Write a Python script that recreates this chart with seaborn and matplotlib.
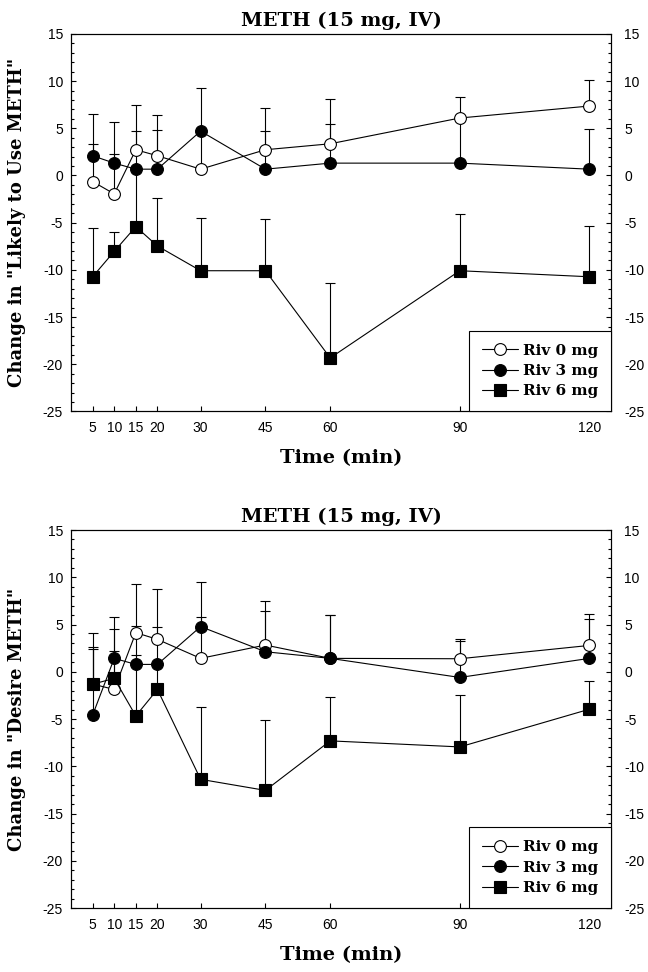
import numpy as np
import pandas as pd
import matplotlib
matplotlib.use("Agg")
import matplotlib.pyplot as plt
from matplotlib.ticker import MultipleLocator, FixedLocator
import seaborn as sns

# ---------------- data ----------------
times = [5, 10, 15, 20, 30, 45, 60, 90, 120]
doses = ["Riv 0 mg", "Riv 3 mg", "Riv 6 mg"]

likely_riv0 = [-0.64, -1.95, 2.73, 2.09, 0.67, 2.73, 3.36, 6.09, 7.36]
likely_riv0_se = [4.0, 4.18, 4.74, 4.35, 4.0, 4.45, 4.7, 2.23, 2.75]
likely_riv3 = [2.09, 1.31, 0.67, 0.67, 4.7, 0.67, 1.31, 1.31, 0.67]
likely_riv3_se = [4.46, 4.4, 4.03, 4.18, 4.6, 4.03, 4.1, 4.5, 4.25]
likely_riv6 = [-10.73, -8.04, -5.42, -7.47, -10.09, -10.09, -19.33, -10.09, -10.73]
likely_riv6_se = [5.17, 2.06, 6.0, 5.1, 5.63, 5.5, 7.9, 6.05, 5.35]

desire_riv0 = [-1.3, -1.87, 4.14, 3.43, 1.42, 2.83, 1.42, 1.38, 2.79]
desire_riv0_se = [5.4, 4.1, 5.2, 5.3, 4.4, 4.7, 4.55, 1.9, 3.33]
desire_riv3 = [-4.59, 1.42, 0.78, 0.78, 4.78, 2.12, 1.42, -0.6, 1.42]
desire_riv3_se = [7.0, 4.4, 4.1, 4.0, 4.7, 4.35, 4.55, 4.07, 4.14]
desire_riv6 = [-1.31, -0.7, -4.67, -1.87, -11.38, -12.55, -7.31, -7.95, -3.96]
desire_riv6_se = [3.96, 5.2, 6.4, 2.7, 7.7, 7.5, 4.6, 5.5, 3.0]

y_ticks = [-25, -20, -15, -10, -5, 0, 5, 10, 15]
title_text = "METH (15 mg, IV)"
x_label = "Time (min)"
y_label_top = 'Change in "Likely to Use METH"'
y_label_bottom = 'Change in "Desire METH"'

# ---------------- style ----------------
sns.set_theme(style="ticks")
plt.rcParams["font.family"] = ["Liberation Sans", "DejaVu Sans"]
plt.rcParams["axes.unicode_minus"] = False
plt.rcParams["axes.edgecolor"] = "black"
plt.rcParams["axes.labelcolor"] = "black"
plt.rcParams["text.color"] = "black"
plt.rcParams["xtick.color"] = "black"
plt.rcParams["ytick.color"] = "black"

serif_bold = dict(family="DejaVu Serif", weight="bold", color="black")

styles = {
    "Riv 0 mg": dict(marker="o", markerfacecolor="white"),
    "Riv 3 mg": dict(marker="o", markerfacecolor="black"),
    "Riv 6 mg": dict(marker="s", markerfacecolor="black"),
}

fig = plt.figure(figsize=(6.48, 9.72), dpi=100)


def style_y(ax, side):
    ax.set_ylim(-25, 15)
    ax.yaxis.set_major_locator(FixedLocator(y_ticks))
    ax.yaxis.set_minor_locator(MultipleLocator(1))
    pad = 5.8 if side == "left" else 9.4
    ax.tick_params(axis="y", which="major", direction="in", length=3.5,
                   width=0.8, labelsize=10, pad=pad, colors="black")
    ax.tick_params(axis="y", which="minor", direction="in", length=2.2,
                   width=0.8, colors="black")
    if side == "right":
        ax.tick_params(axis="y", which="both", left=False, labelleft=False,
                       right=True, labelright=True)
    else:
        ax.tick_params(axis="y", which="both", left=True, labelleft=True,
                       right=False, labelright=False)


def panel(rect, series, ylabel):
    ax = fig.add_axes(rect)
    frames = []
    for d, (m, e) in zip(doses, series):
        frames.append(pd.DataFrame({"time": times, "mean": m, "se": e, "dose": d}))
    df = pd.concat(frames, ignore_index=True)

    for d in doses:
        sub = df[df["dose"] == d]
        ax.errorbar(sub["time"], sub["mean"],
                    yerr=[np.zeros(len(sub)), sub["se"].values],
                    fmt="none", ecolor="black", elinewidth=0.8,
                    capsize=3.6, capthick=0.8, zorder=2)

    handles = []
    for d in doses:
        sub = df[df["dose"] == d]
        sns.lineplot(data=sub, x="time", y="mean", ax=ax, color="black",
                     linewidth=0.8, markersize=8.5, markeredgecolor="black",
                     markeredgewidth=0.8, errorbar=None, legend=False,
                     zorder=3, **styles[d])
        handles.append(ax.lines[-1])

    ax.set_xlim(0, 125)
    ax.set_xticks(times)
    ax.set_xticklabels([str(t) for t in times])
    ax.tick_params(axis="x", which="major", direction="in", length=3.5,
                   width=0.8, labelsize=10, pad=7, colors="black")
    ax.tick_params(axis="x", which="minor", bottom=False)
    style_y(ax, "left")

    ax2 = ax.twinx()
    style_y(ax2, "right")

    for a in (ax, ax2):
        for sp in a.spines.values():
            sp.set_linewidth(0.8)
            sp.set_color("black")
            sp.set_visible(True)

    ax.set_title(title_text, fontsize=14, pad=6, **serif_bold)
    ax.set_xlabel(x_label, fontsize=14, labelpad=10, **serif_bold)
    ax.set_ylabel(ylabel, fontsize=13, labelpad=12, **serif_bold)

    leg = ax2.legend(handles, doses, loc="lower right", borderaxespad=0,
                     frameon=True, fancybox=False, edgecolor="black",
                     framealpha=1, numpoints=1,
                     prop=dict(family="DejaVu Serif", weight="bold", size=11),
                     handlelength=2.4, handletextpad=0.3, borderpad=0.85,
                     labelspacing=0.42)
    for t in leg.get_texts():
        t.set_color("black")
    leg.get_frame().set_linewidth(0.8)
    return ax


panel([0.1096, 0.5767, 0.8333, 0.3884],
      [(likely_riv0, likely_riv0_se), (likely_riv3, likely_riv3_se),
       (likely_riv6, likely_riv6_se)], y_label_top)
panel([0.1096, 0.0658, 0.8333, 0.3889],
      [(desire_riv0, desire_riv0_se), (desire_riv3, desire_riv3_se),
       (desire_riv6, desire_riv6_se)], y_label_bottom)

fig.savefig("out.png", dpi=100)
